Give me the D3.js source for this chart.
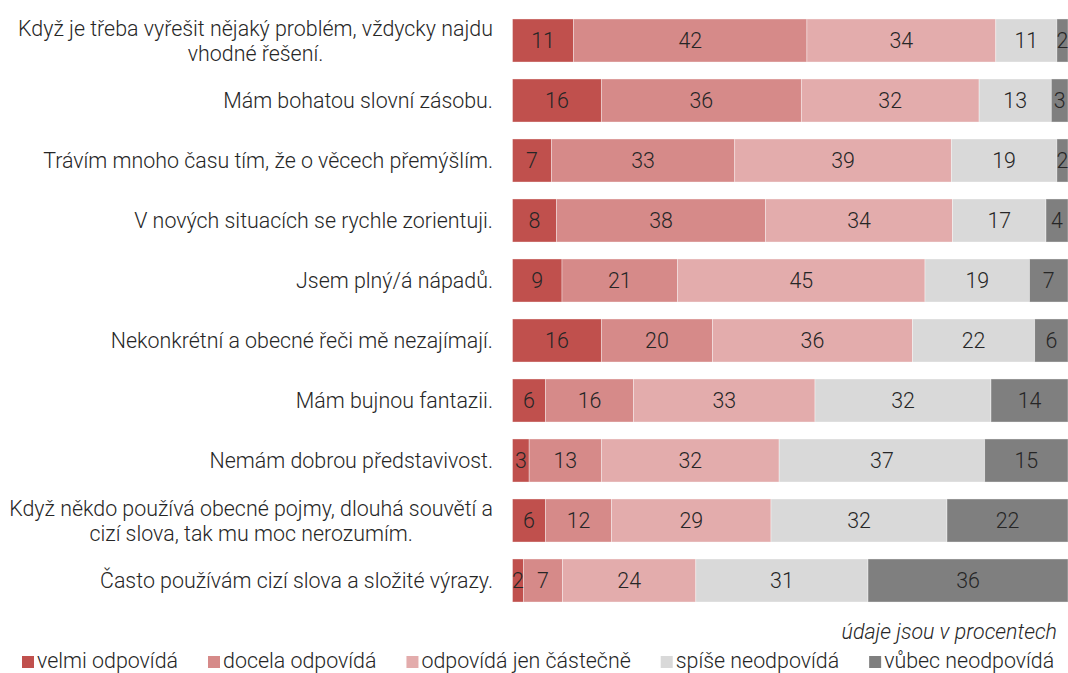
<!DOCTYPE html>
<html>
<head>
<meta charset="utf-8">
<script src="https://cdn.jsdelivr.net/npm/d3@7"></script>
<style>
  html, body { margin: 0; padding: 0; background: #fff; }
  svg { display: block; font-family: Roboto, "Noto Sans", sans-serif; font-weight: 300; }
</style>
</head>
<body>
<svg id="chart" width="1068" height="673"></svg>
<script>
const categories = [
  ["Když je třeba vyřešit nějaký problém, vždycky najdu", "vhodné řešení."],
  ["Mám bohatou slovní zásobu."],
  ["Trávím mnoho času tím, že o věcech přemýšlím."],
  ["V nových situacích se rychle zorientuji."],
  ["Jsem plný/á nápadů."],
  ["Nekonkrétní a obecné řeči mě nezajímají."],
  ["Mám bujnou fantazii."],
  ["Nemám dobrou představivost."],
  ["Když někdo používá obecné pojmy, dlouhá souvětí a", "cizí slova, tak mu moc nerozumím."],
  ["Často používám cizí slova a složité výrazy."]
];
const seriesNames = ["velmi odpovídá", "docela odpovídá", "odpovídá jen částečně", "spíše neodpovídá", "vůbec neodpovídá"];
const velmi    = [11, 16,  7,  8,  9, 16,  6,  3,  6,  2];
const docela   = [42, 36, 33, 38, 21, 20, 16, 13, 12,  7];
const castecne = [34, 32, 39, 34, 45, 36, 33, 32, 29, 24];
const spise    = [11, 13, 19, 17, 19, 22, 32, 37, 32, 31];
const vubec    = [ 2,  3,  2,  4,  7,  6, 14, 15, 22, 36];
const colors = ["#C0504D", "#D68A89", "#E3ACAC", "#D9D9D9", "#7F7F7F"];
const note = "údaje jsou v procentech";

const series = [velmi, docela, castecne, spise, vubec];
const svg = d3.select("#chart");
const FS = 21.4;

const rowKeys = categories.map((c, i) => i);
const y = d3.scaleBand().domain(rowKeys).range([10.5, 610.5])
  .paddingInner(0.283).paddingOuter(0.1415);
const x = d3.scaleLinear().domain([0, 1]).range([512.5, 1068]);
const color = d3.scaleOrdinal().domain(seriesNames).range(colors);

// build stacked data (normalized per row)
const rows = rowKeys.map(i => {
  const vals = series.map(s => s[i]);
  const total = d3.sum(vals);
  let acc = 0;
  return vals.map((v, k) => {
    const seg = { row: i, k, v, x0: acc / total, x1: (acc + v) / total };
    acc += v;
    return seg;
  });
});

const g = svg.append("g");
rows.forEach(segs => {
  const rg = g.append("g");
  rg.selectAll("rect").data(segs).join("rect")
    .attr("x", d => x(d.x0))
    .attr("y", d => y(d.row))
    .attr("width", d => x(d.x1) - x(d.x0))
    .attr("height", y.bandwidth())
    .attr("fill", d => color(seriesNames[d.k]))
    .attr("stroke", "#fff")
    .attr("stroke-opacity", 0.45)
    .attr("stroke-width", 0.8);
  rg.selectAll("text").data(segs).join("text")
    .attr("x", d => (x(d.x0) + x(d.x1)) / 2)
    .attr("y", d => y(d.row) + y.bandwidth() / 2)
    .attr("dy", "0.36em")
    .attr("text-anchor", "middle")
    .attr("font-size", FS)
    .attr("fill", "#262626")
    .text(d => d.v);
});

// category labels
const labelRight = 493;
const lineH = 25;
categories.forEach((lines, i) => {
  const cy = y(i) + y.bandwidth() / 2;
  const t = svg.append("text")
    .attr("font-size", FS)
    .attr("fill", "#262626")
    .attr("text-anchor", "middle");
  const spans = lines.map((ln, j) => t.append("tspan")
    .attr("y", cy + (j - (lines.length - 1) / 2) * lineH)
    .attr("dy", "0.36em")
    .text(ln));
  const maxW = d3.max(spans, s => s.node().getComputedTextLength());
  spans.forEach(s => s.attr("x", labelRight - maxW / 2));
});

// note
svg.append("text")
  .attr("x", 1057).attr("y", 639)
  .attr("text-anchor", "end")
  .attr("font-size", FS)
  .attr("font-style", "italic")
  .attr("fill", "#262626")
  .text(note);

// legend
let lx = 22;
const ly = 667.5;
seriesNames.forEach((name, k) => {
  svg.append("rect")
    .attr("x", lx).attr("y", ly - 11.5)
    .attr("width", 12).attr("height", 12)
    .attr("fill", color(name));
  const t = svg.append("text")
    .attr("x", lx + 15).attr("y", ly)
    .attr("font-size", FS)
    .attr("fill", "#262626")
    .text(name);
  lx = lx + 15 + t.node().getComputedTextLength() + 30;
});
</script>
</body>
</html>
